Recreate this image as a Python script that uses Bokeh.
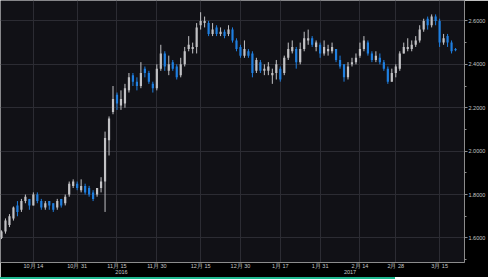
from bokeh.plotting import figure
from bokeh.models import (ColumnDataSource, FixedTicker, Range1d,
                          SingleIntervalTicker, NumeralTickFormatter, Div)
from bokeh.layouts import column
from bokeh.embed import file_html
from bokeh.resources import INLINE

# ---------------- data ----------------
dates = [
    "2016-10-03", "2016-10-04", "2016-10-05", "2016-10-06", "2016-10-07",
    "2016-10-11", "2016-10-12", "2016-10-13", "2016-10-14",
    "2016-10-17", "2016-10-18", "2016-10-19", "2016-10-20", "2016-10-21",
    "2016-10-24", "2016-10-25", "2016-10-26", "2016-10-27", "2016-10-28",
    "2016-10-31",
    "2016-11-01", "2016-11-02", "2016-11-03", "2016-11-04",
    "2016-11-07", "2016-11-08", "2016-11-09", "2016-11-10",
    "2016-11-14", "2016-11-15", "2016-11-16", "2016-11-17", "2016-11-18",
    "2016-11-21", "2016-11-22", "2016-11-23", "2016-11-25",
    "2016-11-28", "2016-11-29", "2016-11-30",
    "2016-12-01", "2016-12-02",
    "2016-12-05", "2016-12-06", "2016-12-07", "2016-12-08", "2016-12-09",
    "2016-12-12", "2016-12-13", "2016-12-14", "2016-12-15", "2016-12-16",
    "2016-12-19", "2016-12-20", "2016-12-21", "2016-12-22", "2016-12-23",
    "2016-12-27", "2016-12-28", "2016-12-29", "2016-12-30",
    "2017-01-03", "2017-01-04", "2017-01-05", "2017-01-06",
    "2017-01-09", "2017-01-10", "2017-01-11", "2017-01-12", "2017-01-13",
    "2017-01-17", "2017-01-18", "2017-01-19", "2017-01-20",
    "2017-01-23", "2017-01-24", "2017-01-25", "2017-01-26", "2017-01-27",
    "2017-01-30", "2017-01-31",
    "2017-02-01", "2017-02-02", "2017-02-03",
    "2017-02-06", "2017-02-07", "2017-02-08", "2017-02-09", "2017-02-10",
    "2017-02-13", "2017-02-14", "2017-02-15", "2017-02-16", "2017-02-17",
    "2017-02-21", "2017-02-22", "2017-02-23", "2017-02-24",
    "2017-02-27", "2017-02-28",
    "2017-03-01", "2017-03-02", "2017-03-03",
    "2017-03-06", "2017-03-07", "2017-03-08", "2017-03-09", "2017-03-10",
    "2017-03-13", "2017-03-14", "2017-03-15", "2017-03-16", "2017-03-17",
    "2017-03-20", "2017-03-21",
]

opens = [
    1.60, 1.63, 1.66, 1.69, 1.75,
    1.73, 1.77, 1.78, 1.75,
    1.80, 1.77, 1.74, 1.77, 1.76,
    1.74, 1.78, 1.76, 1.80, 1.84,
    1.85,
    1.82, 1.84, 1.83, 1.81,
    1.80, 1.83, 1.86, 2.05,
    2.18, 2.26, 2.21, 2.22, 2.28,
    2.35, 2.32, 2.30, 2.38,
    2.36, 2.31, 2.29,
    2.38, 2.45,
    2.37, 2.41, 2.39, 2.35, 2.40,
    2.47, 2.47, 2.48, 2.58, 2.59,
    2.59, 2.54, 2.57, 2.54, 2.55,
    2.54, 2.56, 2.51, 2.48,
    2.44, 2.46, 2.45, 2.37,
    2.41, 2.37, 2.37, 2.35, 2.36,
    2.38, 2.36, 2.43, 2.46,
    2.47, 2.41, 2.47, 2.51, 2.52,
    2.48, 2.49,
    2.45, 2.46, 2.46,
    2.47, 2.42, 2.40, 2.34, 2.40,
    2.41, 2.44, 2.47, 2.50, 2.45,
    2.42, 2.43, 2.41, 2.38,
    2.32, 2.36,
    2.38, 2.45, 2.47,
    2.47, 2.49, 2.51, 2.56, 2.61,
    2.58, 2.62, 2.60, 2.50, 2.53,
    2.50, 2.47,
]

highs = [
    1.635, 1.69, 1.71, 1.745, 1.77,
    1.78, 1.80, 1.78, 1.81,
    1.81, 1.78, 1.77, 1.77, 1.76,
    1.78, 1.78, 1.80, 1.86, 1.87,
    1.86,
    1.87, 1.85, 1.84, 1.82,
    1.83, 1.88, 2.09, 2.16,
    2.30, 2.27, 2.28, 2.31, 2.36,
    2.36, 2.34, 2.41, 2.39,
    2.37, 2.32, 2.40,
    2.49, 2.46,
    2.44, 2.42, 2.40, 2.43, 2.48,
    2.53, 2.50, 2.59, 2.64, 2.62,
    2.60, 2.59, 2.58, 2.57, 2.56,
    2.58, 2.57, 2.52, 2.49,
    2.51, 2.47, 2.46, 2.43,
    2.42, 2.40, 2.41, 2.38, 2.42,
    2.39, 2.44, 2.50, 2.51,
    2.48, 2.50, 2.55, 2.56, 2.53,
    2.51, 2.50,
    2.51, 2.49, 2.50,
    2.47, 2.44, 2.40, 2.41, 2.43,
    2.45, 2.50, 2.53, 2.51, 2.46,
    2.46, 2.45, 2.42, 2.39,
    2.38, 2.40,
    2.46, 2.50, 2.52,
    2.51, 2.53, 2.58, 2.61, 2.62,
    2.63, 2.63, 2.61, 2.54, 2.54,
    2.51, 2.475,
]

lows = [
    1.595, 1.62, 1.65, 1.68, 1.70,
    1.72, 1.76, 1.73, 1.75,
    1.76, 1.73, 1.73, 1.73, 1.72,
    1.73, 1.74, 1.75, 1.79, 1.83,
    1.82,
    1.81, 1.80, 1.79, 1.77,
    1.79, 1.81, 1.72, 1.98,
    2.17, 2.19, 2.19, 2.20, 2.27,
    2.30, 2.28, 2.29, 2.34,
    2.31, 2.27, 2.28,
    2.37, 2.37,
    2.35, 2.37, 2.33, 2.34, 2.39,
    2.46, 2.45, 2.45, 2.56, 2.57,
    2.53, 2.53, 2.53, 2.53, 2.52,
    2.53, 2.50, 2.46, 2.43,
    2.43, 2.43, 2.34, 2.36,
    2.36, 2.35, 2.35, 2.31, 2.33,
    2.32, 2.35, 2.42, 2.45,
    2.38, 2.40, 2.46, 2.49, 2.48,
    2.46, 2.43,
    2.44, 2.44, 2.45,
    2.41, 2.38, 2.32, 2.33, 2.39,
    2.40, 2.43, 2.46, 2.44, 2.41,
    2.41, 2.40, 2.37, 2.31,
    2.32, 2.34,
    2.37, 2.45, 2.46,
    2.46, 2.48, 2.50, 2.55, 2.56,
    2.57, 2.58, 2.48, 2.49, 2.48,
    2.45, 2.46,
]

closes = [
    1.63, 1.68, 1.70, 1.74, 1.72,
    1.77, 1.79, 1.75, 1.80,
    1.77, 1.74, 1.76, 1.75, 1.73,
    1.77, 1.75, 1.79, 1.85, 1.86,
    1.83,
    1.84, 1.81, 1.80, 1.78,
    1.83, 1.86, 2.06, 2.15,
    2.24, 2.22, 2.24, 2.29, 2.34,
    2.32, 2.30, 2.36, 2.36,
    2.32, 2.29, 2.38,
    2.45, 2.39,
    2.40, 2.38, 2.34, 2.40, 2.46,
    2.49, 2.48, 2.57, 2.60, 2.60,
    2.54, 2.56, 2.54, 2.55, 2.53,
    2.56, 2.51, 2.47, 2.44,
    2.47, 2.44, 2.36, 2.42,
    2.37, 2.38, 2.39, 2.36, 2.40,
    2.33, 2.43, 2.47, 2.48,
    2.41, 2.47, 2.52, 2.52, 2.49,
    2.50, 2.45,
    2.48, 2.47, 2.48,
    2.42, 2.39, 2.34, 2.39, 2.41,
    2.43, 2.47, 2.51, 2.45, 2.42,
    2.44, 2.41, 2.38, 2.32,
    2.36, 2.39,
    2.45, 2.48, 2.48,
    2.49, 2.51, 2.56, 2.60, 2.58,
    2.62, 2.60, 2.50, 2.52, 2.50,
    2.46, 2.465,
]

tick_dates = ["2016-10-14", "2016-10-31", "2016-11-15", "2016-11-30",
              "2016-12-15", "2016-12-30", "2017-01-17", "2017-01-31",
              "2017-02-14", "2017-02-28", "2017-03-15"]
tick_labels = ["10月 14", "10月 31", "11月 15", "11月 30", "12月 15",
               "12月 30", "1月 17", "1月 31", "2月 14", "2月 28", "3月 15"]
years = ["2016", "2017"]

# ---------------- build ----------------
UP = "#c2c2c5"
DOWN = "#1f7fe0"
n = len(dates)
idx = list(range(n))
colors = [UP if c >= o else DOWN for o, c in zip(opens, closes)]
top = [max(o, c) for o, c in zip(opens, closes)]
bot = [min(o, c) for o, c in zip(opens, closes)]
bot = [b if t - b > 0.004 else t - 0.004 for t, b in zip(top, bot)]

src = ColumnDataSource(dict(x=idx, high=highs, low=lows, top=top,
                            bottom=bot, color=colors))

x0, x1 = -0.25, n + 1.25
y0, y1 = 1.487, 2.694

p = figure(width=488, height=277, output_backend="svg", toolbar_location=None,
           x_range=Range1d(x0, x1), y_range=Range1d(y0, y1),
           y_axis_location="right", min_border_left=0, min_border_top=0,
           min_border_right=22, min_border_bottom=0)
p.background_fill_color = "#111116"
p.border_fill_color = "#000000"
p.outline_line_color = None

p.segment(x0="x", y0="low", x1="x", y1="high", color="color", line_width=1,
          source=src)
p.vbar(x="x", width=0.55, top="top", bottom="bottom", fill_color="color",
       line_color=None, source=src)

tick_pos = [dates.index(d) for d in tick_dates]

# year label positions: centre of each year's visible span
year_pos = []
for yv in years:
    ii = [i for i, d in enumerate(dates) if d.startswith(yv)]
    a = max(x0, min(ii) - 0.5)
    b = min(x1, max(ii) + 0.5)
    year_pos.append(round((a + b) / 2, 2))

overrides = {t: l for t, l in zip(tick_pos, tick_labels)}
overrides.update({t: "\n" + l for t, l in zip(year_pos, years)})

# bottom axis (months, with the year on a second line)
xa = p.xaxis[0]
xa.ticker = FixedTicker(ticks=tick_pos + year_pos)
xa.major_label_overrides = overrides
xa.major_label_text_font = "Liberation Sans"
xa.major_label_text_font_size = "5.5px"
xa.major_label_text_line_height = 1.0
xa.major_label_text_color = "#c8c8c8"
xa.axis_line_color = "#8c8c8c"
xa.major_tick_line_color = None
xa.major_tick_in = 0
xa.major_tick_out = 0
xa.minor_tick_line_color = None
xa.minor_tick_in = 0
xa.minor_tick_out = 0
xa.major_label_standoff = 0

# right axis
ya = p.yaxis[0]
ya.ticker = SingleIntervalTicker(interval=0.2, num_minor_ticks=2)
ya.formatter = NumeralTickFormatter(format="0.0000")
ya.major_label_text_font = "Liberation Sans"
ya.major_label_text_font_size = "5.5px"
ya.major_label_text_color = "#c8c8c8"
ya.axis_line_color = "#8c8c8c"
ya.major_tick_line_color = "#8c8c8c"
ya.minor_tick_line_color = "#8c8c8c"
ya.major_tick_in = 0
ya.major_tick_out = 3
ya.minor_tick_in = 0
ya.minor_tick_out = 2
ya.major_label_standoff = 1

p.xgrid.ticker = FixedTicker(ticks=tick_pos)
p.xgrid.grid_line_color = "#2c2c33"
p.ygrid.grid_line_color = "#2c2c33"

bar = Div(text="", width=395, height=2, margin=(0, 0, 0, 0),
          styles={"background-color": "#1db88e"})
layout = column(p, bar, spacing=0)

open("out.html", "w").write(file_html(layout, INLINE))
